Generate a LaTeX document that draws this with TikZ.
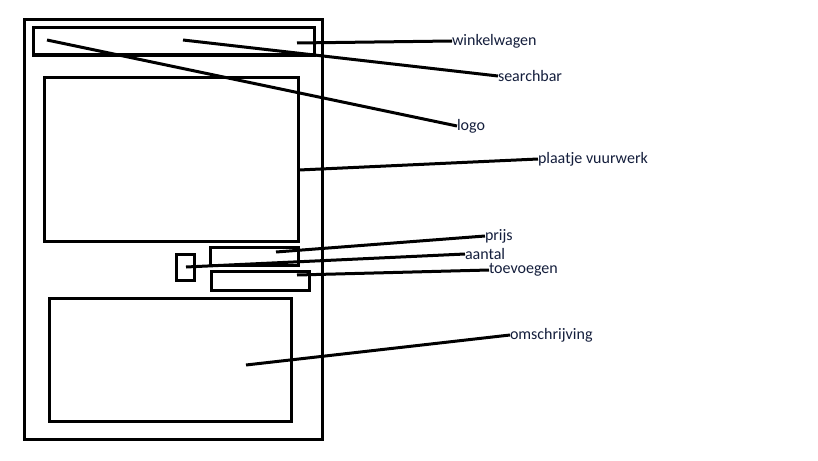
\documentclass[tikz,border=0pt]{standalone}
\usepackage{fontspec}
\setmainfont{Carlito}
\definecolor{labelcol}{RGB}{20,30,60}
\begin{document}
\begin{tikzpicture}[x=1pt,y=-1pt,
  box/.style={draw=black,line width=3pt,inner sep=0pt,outer sep=0pt,anchor=north west},
  lbl/.style={anchor=west,inner sep=0pt,outer sep=0pt,text=labelcol,font=\fontsize{16}{18}\selectfont},
  con/.style={draw=black,line width=3pt}]
\useasboundingbox[fill=white] (0,0) rectangle (818,460);
% boxes
\node[box,minimum width=298pt,minimum height=419pt] (frame) at (24,20) {};
\node[box,minimum width=281pt,minimum height=27pt] (topbar) at (33,28) {};
\node[box,minimum width=254pt,minimum height=164pt] (image) at (44,77) {};
\node[box,minimum width=88pt,minimum height=18pt] (prijsbox) at (210,247) {};
\node[box,minimum width=18pt,minimum height=26pt] (aantalbox) at (176,254) {};
\node[box,minimum width=98pt,minimum height=19pt] (toevbox) at (211,271) {};
\node[box,minimum width=242pt,minimum height=123pt] (omsbox) at (49,298) {};
% labels
\node[lbl] (winkel) at (452,41) {winkelwagen};
\node[lbl] (search) at (498,76) {searchbar};
\node[lbl] (logo) at (457,126) {logo};
\node[lbl] (plaatje) at (538,159) {plaatje vuurwerk};
\node[lbl] (prijs) at (485,236) {prijs};
\node[lbl] (aantal) at (465,254) {aantal};
\node[lbl] (toev) at (489,270) {toevoegen};
\node[lbl] (oms) at (510,335) {omschrijving};
% start points
\coordinate (pw) at (297,43);
\coordinate (ps) at (183,40);
\coordinate (pl) at (47,40);
\coordinate (pp) at (299,170);
\coordinate (ppr) at (276,252);
\coordinate (pa) at (186,267);
\coordinate (pt) at (297,275);
\coordinate (po) at (246,365);
% connectors
\draw[con] (pw) -- (winkel.west);
\draw[con] (ps) -- (search.west);
\draw[con] (pl) -- (logo.west);
\draw[con] (pp) -- (plaatje.west);
\draw[con] (ppr) -- (prijs.west);
\draw[con] (pa) -- (aantal.west);
\draw[con] (pt) -- (toev.west);
\draw[con] (po) -- (oms.west);
\end{tikzpicture}
\end{document}
